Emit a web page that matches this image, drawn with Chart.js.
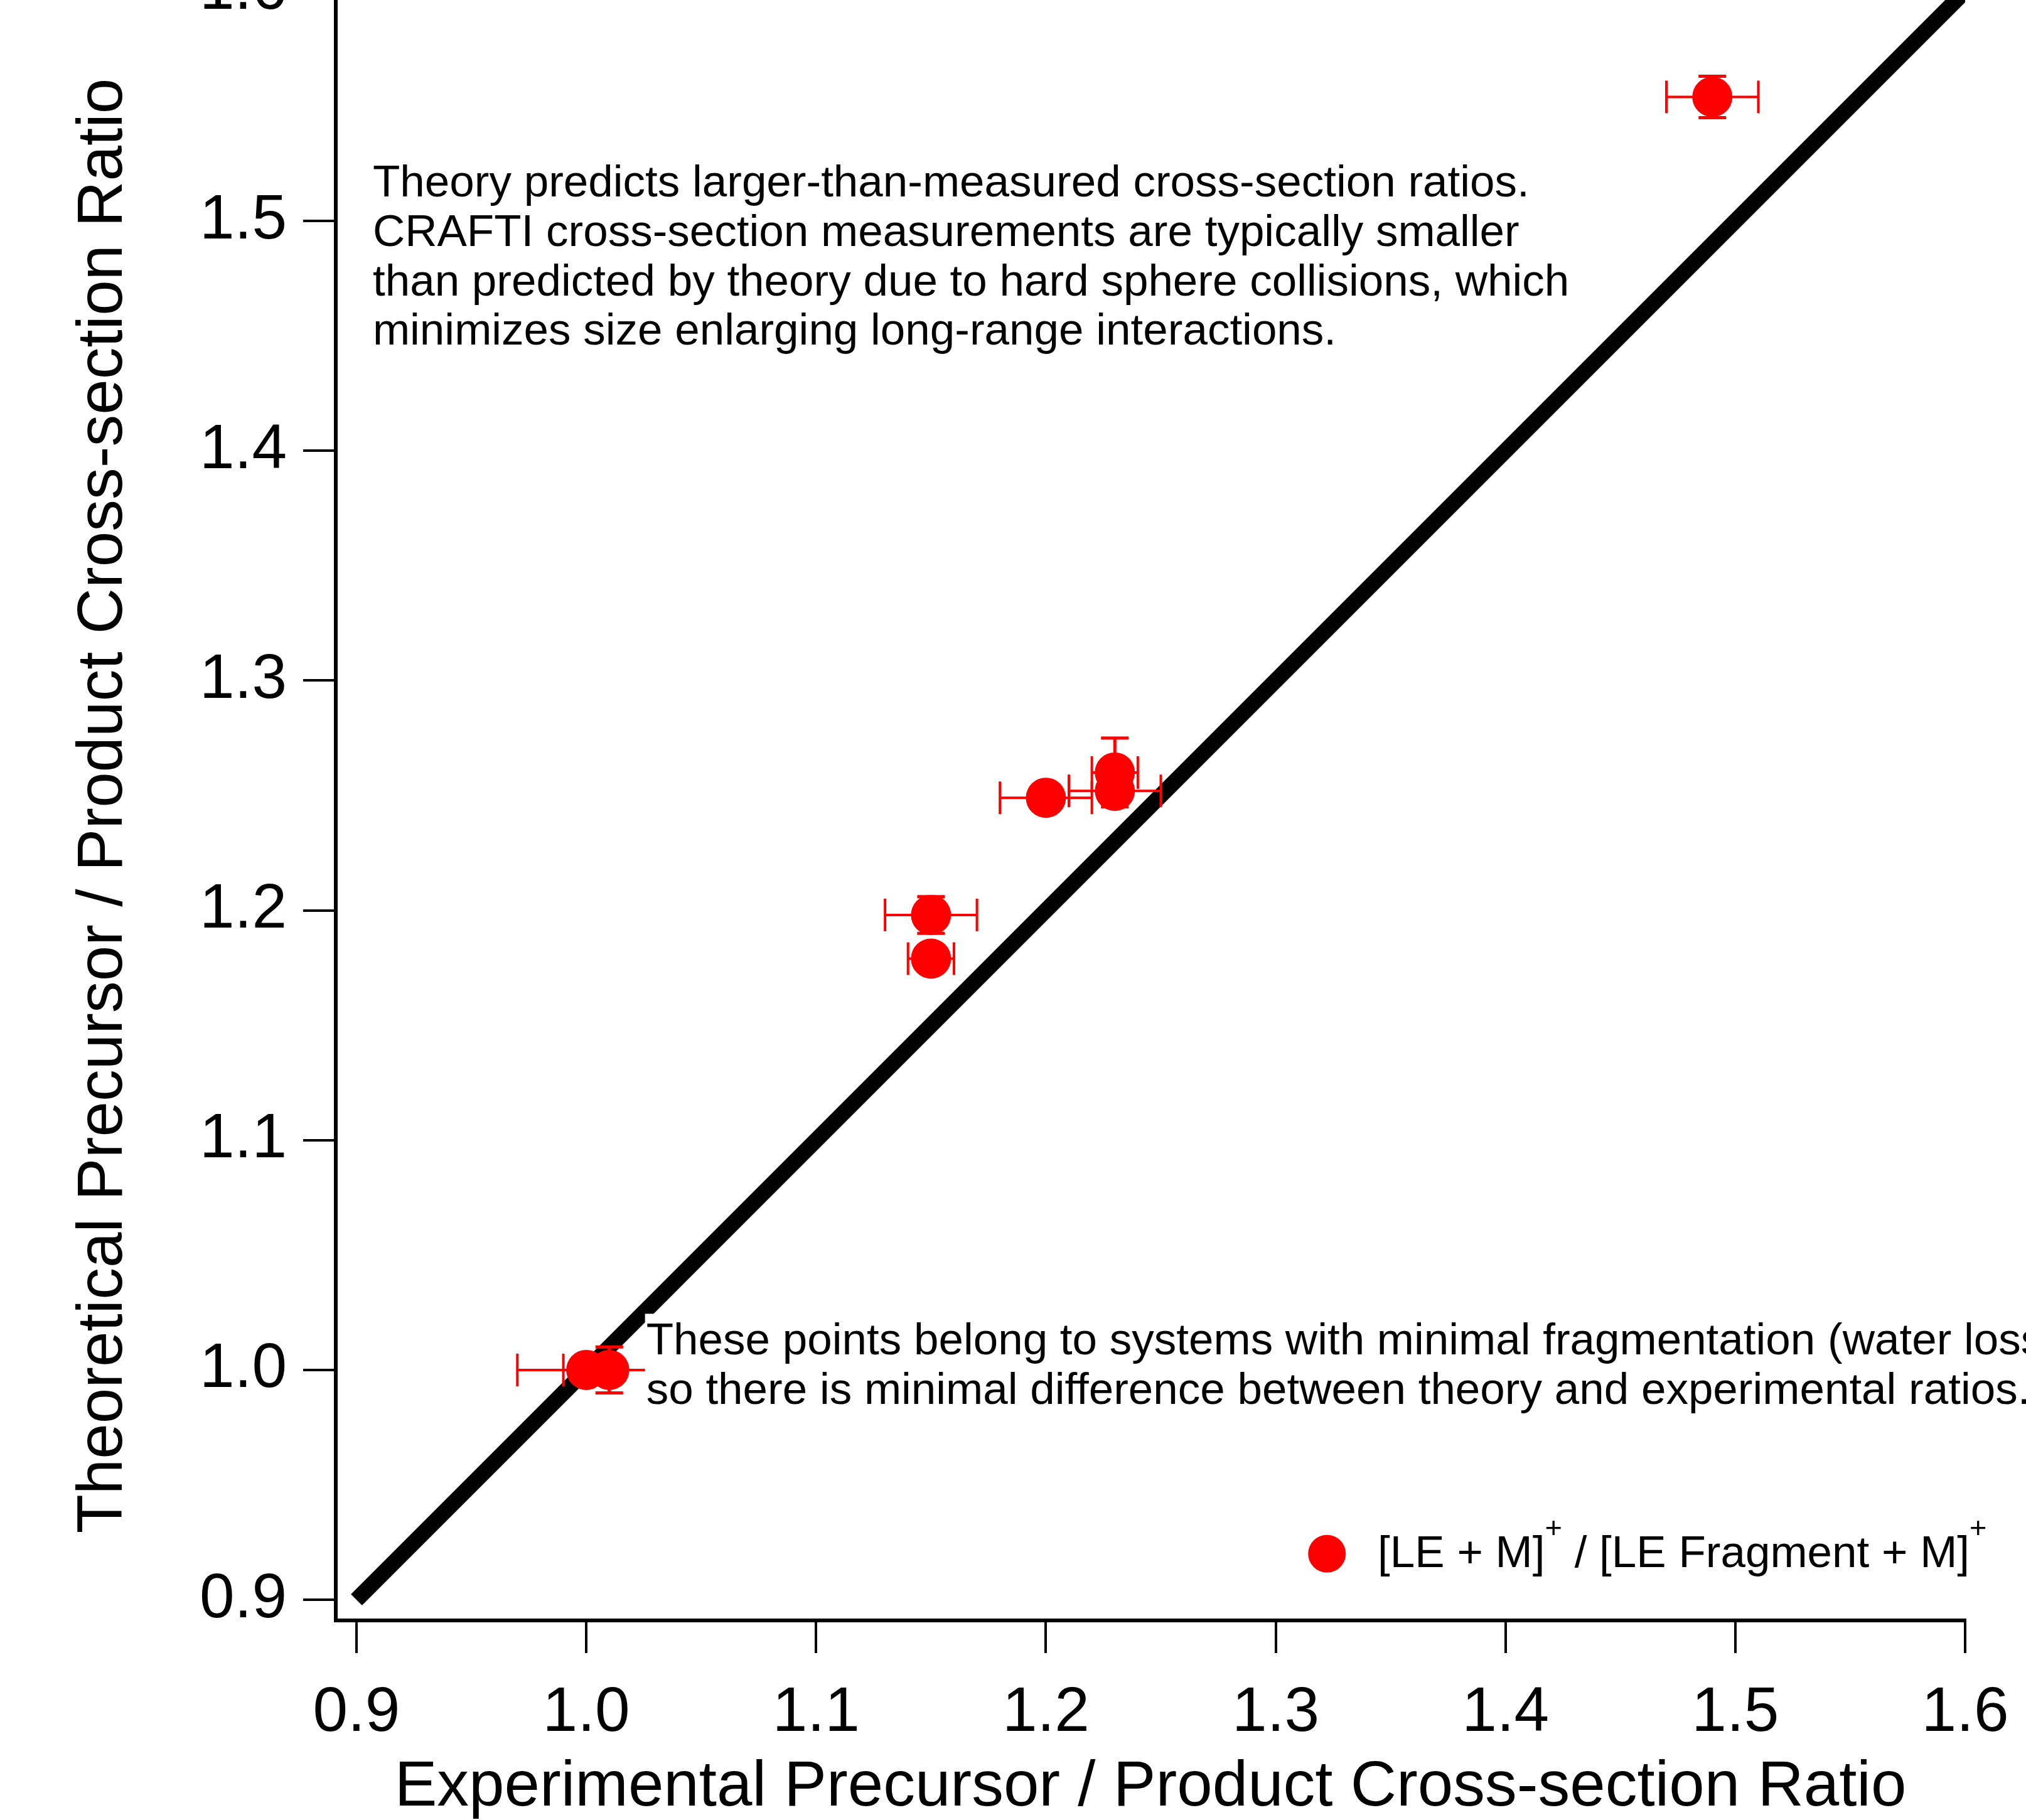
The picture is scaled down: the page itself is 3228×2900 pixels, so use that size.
<!DOCTYPE html>
<html>
<head>
<meta charset="utf-8">
<script src="https://cdn.jsdelivr.net/npm/chart.js@4.4.1/dist/chart.umd.min.js"></script>
<style>
  html, body { margin: 0; padding: 0; background: #ffffff; overflow: hidden; width: 3228px; height: 2900px; }
  #wrap { position: absolute; left: 0; top: -100px; width: 3228px; height: 3000px; }
  canvas { display: block; }
</style>
</head>
<body>
<div id="wrap"><canvas id="c" width="3228" height="3000"></canvas></div>
<script>
// ---------------- data ----------------
const seriesLabel = '[LE + M]⁺ / [LE Fragment + M]⁺';
const expRatio  = [1.49, 1.23, 1.23, 1.20, 1.15, 1.15, 1.00, 1.01];
const theoRatio = [1.554, 1.260, 1.252, 1.249, 1.198, 1.179, 1.000, 1.000];
const expErr    = [0.02, 0.01, 0.02, 0.02, 0.02, 0.01, 0.03, 0.02];
const theoErr   = [0.009, 0.015, 0, 0, 0.008, 0, 0, 0.01];
const parityX = [0.9, 1.6];
const parityY = [0.9, 1.6];
const xTicks = [0.9, 1.0, 1.1, 1.2, 1.3, 1.4, 1.5, 1.6];
const xTickLabels = ['0.9', '1.0', '1.1', '1.2', '1.3', '1.4', '1.5', '1.6'];
const yTicks = [0.9, 1.0, 1.1, 1.2, 1.3, 1.4, 1.5, 1.6];
const yTickLabels = ['0.9', '1.0', '1.1', '1.2', '1.3', '1.4', '1.5', '1.6'];
const xTitle = 'Experimental Precursor / Product Cross-section Ratio';
const yTitle = 'Theoretical Precursor / Product Cross-section Ratio';
const noteTop = [
  'Theory predicts larger-than-measured cross-section ratios.',
  'CRAFTI cross-section measurements are typically smaller',
  'than predicted by theory due to hard sphere collisions, which',
  'minimizes size enlarging long-range interactions.'
];
const noteBottom = [
  'These points belong to systems with minimal fragmentation (water loss),',
  'so there is minimal difference between theory and experimental ratios.'
];
const legendParts = ['[LE + M]', '+', ' / [LE Fragment + M]', '+'];

// ---------------- style ----------------
const FONT = '"Liberation Sans", Arial, Helvetica, sans-serif';
const RED = '#ff0000';

const overlay = {
  id: 'overlay',
  afterDatasetsDraw(chart) {
    const ctx = chart.ctx, xs = chart.scales.x, ys = chart.scales.y;
    ctx.save();
    ctx.strokeStyle = RED;
    ctx.lineCap = 'butt';
    const seg = (x1, y1, x2, y2) => { ctx.beginPath(); ctx.moveTo(x1, y1); ctx.lineTo(x2, y2); ctx.stroke(); };
    for (let i = 0; i < expRatio.length; i++) {
      const px = xs.getPixelForValue(expRatio[i]);
      const py = ys.getPixelForValue(theoRatio[i]);
      if (expErr[i] > 0) {
        const l = xs.getPixelForValue(expRatio[i] - expErr[i]);
        const r = xs.getPixelForValue(expRatio[i] + expErr[i]);
        ctx.lineWidth = 4;
        seg(l, py, r, py);
        seg(l, py - 26, l, py + 26);
        seg(r, py - 26, r, py + 26);
      }
      if (theoErr[i] > 0) {
        const t = ys.getPixelForValue(theoRatio[i] + theoErr[i]);
        const b = ys.getPixelForValue(theoRatio[i] - theoErr[i]);
        ctx.lineWidth = 5;
        seg(px, t, px, b);
        seg(px - 22, t, px + 22, t);
        seg(px - 22, b, px + 22, b);
      }
    }

    // upper note
    ctx.fillStyle = '#000';
    ctx.textAlign = 'left';
    ctx.textBaseline = 'alphabetic';
    ctx.font = '71px ' + FONT;
    let tx = xs.getPixelForValue(0.9071), ty = ys.getPixelForValue(1.5106);
    noteTop.forEach((s, k) => ctx.fillText(s, tx, ty + k * 78.7));

    // lower note with opaque white box
    tx = xs.getPixelForValue(1.0261); ty = ys.getPixelForValue(1.0067);
    ctx.fillStyle = '#ffffff';
    ctx.fillRect(tx - 2, ty - 65, chart.width - tx + 2, 2 * 78.7 + 20);
    ctx.fillStyle = '#000';
    noteBottom.forEach((s, k) => ctx.fillText(s, tx, ty + k * 78.7));

    // legend
    const lx = xs.getPixelForValue(1.3223), lyc = ys.getPixelForValue(0.92);
    ctx.fillStyle = RED;
    ctx.beginPath(); ctx.arc(lx, lyc, 30, 0, Math.PI * 2); ctx.fill();
    ctx.fillStyle = '#000';
    let cx = xs.getPixelForValue(1.3444);
    const base = ys.getPixelForValue(0.9142);
    legendParts.forEach((s, k) => {
      const sup = (k % 2 === 1);
      ctx.font = (sup ? '47px ' : '71px ') + FONT;
      ctx.fillText(s, cx, sup ? base - 47 : base);
      cx += ctx.measureText(s).width;
    });
    ctx.restore();
  }
};

const axisCommon = (ticksArr, labelsArr) => ({
  type: 'linear',
  min: 0.891,
  max: 1.6,
  afterBuildTicks: s => { s.ticks = ticksArr.map(v => ({ value: v })); },
  ticks: {
    callback: (v, i) => labelsArr[i],
    font: { family: FONT, size: 100 },
    color: '#000',
    maxRotation: 0,
    autoSkip: false
  },
  grid: { display: true, drawOnChartArea: false, drawTicks: true, tickLength: 52, lineWidth: 4, tickWidth: 4, tickColor: '#000', color: '#000' },
  border: { display: true, width: 6, color: '#000' }
});

const xAxis = axisCommon(xTicks, xTickLabels);
xAxis.position = 'bottom';
xAxis.ticks.padding = 36;
xAxis.afterFit = s => { s.height = 318; s.paddingLeft = 0; s.paddingRight = 0; };
xAxis.title = { display: true, text: xTitle, color: '#000', font: { family: FONT, size: 101.5, lineHeight: 1 }, padding: { top: 0, bottom: 0 } };

const yAxis = axisCommon(yTicks, yTickLabels);
yAxis.position = 'left';
yAxis.ticks.padding = 26;
yAxis.afterFit = s => { s.width = 535; s.paddingTop = 0; s.paddingBottom = 0; };
yAxis.title = { display: true, text: yTitle, color: '#000', font: { family: FONT, size: 101.5, lineHeight: 1 }, padding: { top: 115, bottom: 0 } };

new Chart(document.getElementById('c').getContext('2d'), {
  type: 'scatter',
  data: {
    datasets: [
      {
        label: seriesLabel,
        data: expRatio.map((x, i) => ({ x: x, y: theoRatio[i] })),
        backgroundColor: RED,
        borderColor: RED,
        borderWidth: 0,
        pointRadius: 32,
        pointHoverRadius: 32,
        order: 0
      },
      {
        type: 'line',
        label: 'y = x',
        data: parityX.map((x, i) => ({ x: x, y: parityY[i] })),
        borderColor: '#000',
        backgroundColor: '#000',
        borderWidth: 25,
        borderCapStyle: 'butt',
        pointRadius: 0,
        fill: false,
        showLine: true,
        tension: 0,
        order: 1
      }
    ]
  },
  options: {
    responsive: false,
    animation: false,
    devicePixelRatio: 1,
    events: [],
    layout: { padding: { top: 86, right: 97, left: 0, bottom: 0 } },
    plugins: { legend: { display: false }, tooltip: { enabled: false } },
    scales: { x: xAxis, y: yAxis }
  },
  plugins: [overlay]
});
</script>
</body>
</html>
